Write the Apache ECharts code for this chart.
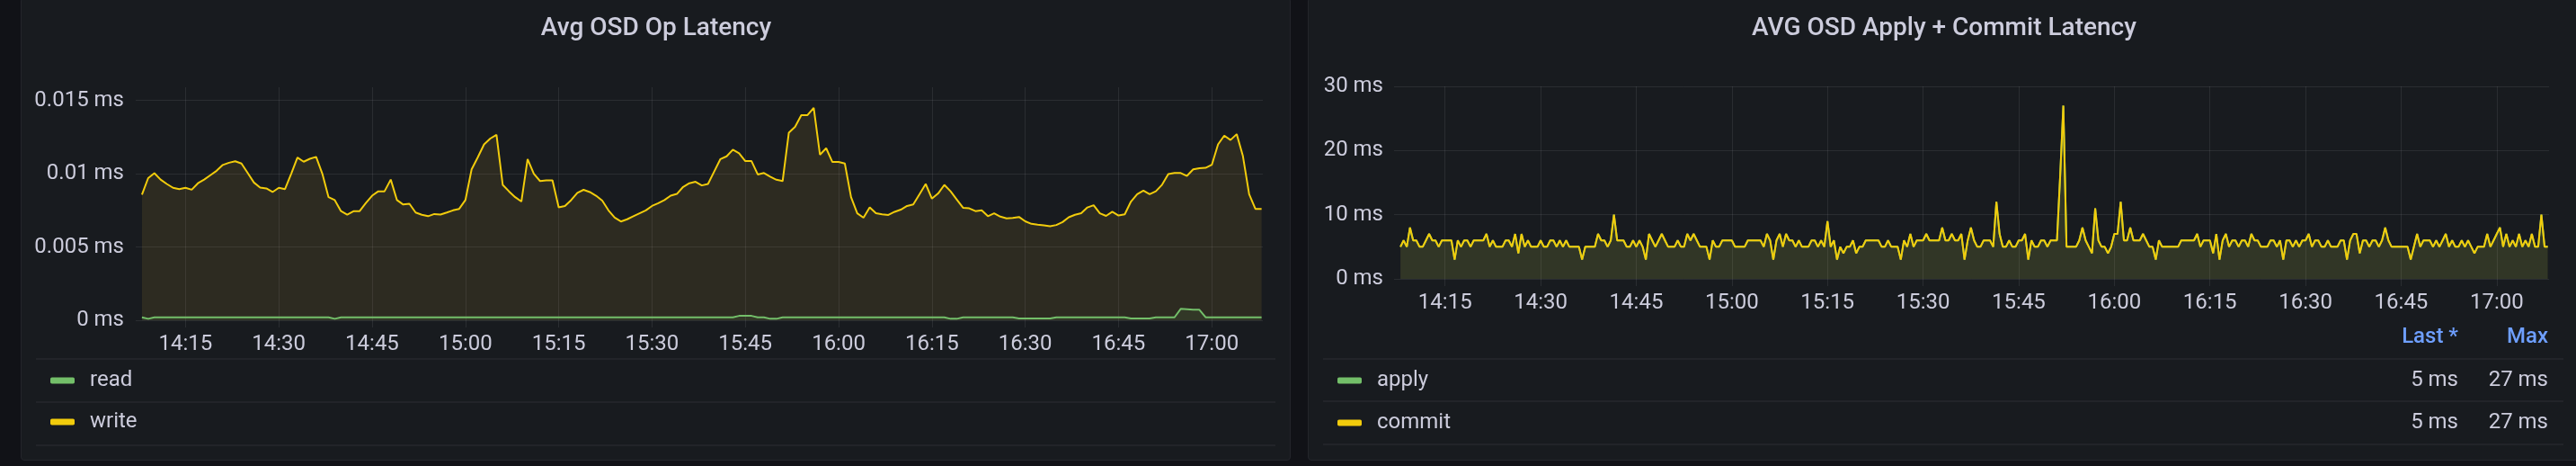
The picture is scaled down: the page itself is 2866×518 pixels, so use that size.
<!DOCTYPE html>
<html>
<head>
<meta charset="utf-8">
<script src="https://cdn.jsdelivr.net/npm/echarts@6/dist/echarts.min.js"></script>
<style>
  html, body { margin: 0; padding: 0; background: #111217; overflow: hidden; }
  .panel { position: absolute; box-sizing: border-box; background: #181b1f; border: 1px solid #23252b; border-radius: 4px; }
  #chart { position: absolute; left: 0; top: 0; width: 2866px; height: 518px; }
</style>
</head>
<body>
<div class="panel" style="left:23px;top:-3px;width:1413px;height:515px"></div>
<div class="panel" style="left:1455px;top:-3px;width:1414px;height:515px"></div>
<div id="chart"></div>
<script>
// ---------- data ----------
// time axis in minutes since midnight; first sample 14:08
const startMinute = 848;
const leftStepMin = 1;      // 1-minute samples (left panel)
const rightStepMin = 0.5;   // 30-second samples (right panel)
const axisMinMinute = 847;
const axisMaxMinute = 1028.2;
const timeTickMinutes = [855, 870, 885, 900, 915, 930, 945, 960, 975, 990, 1005, 1020];

// Avg OSD Op Latency, values in microseconds (1e-3 ms)
const writeLatencyUs = [
  8.57, 9.7, 10.04, 9.6, 9.3, 9.04, 8.95, 9.04, 8.91, 9.35,
  9.6, 9.9, 10.2, 10.6, 10.75, 10.85, 10.7, 10.05, 9.4, 9.06,
  9.0, 8.75, 9.04, 8.95, 10.0, 11.1, 10.82, 11.02, 11.15, 10.0,
  8.4, 8.2, 7.45, 7.21, 7.44, 7.45, 8.0, 8.5, 8.8, 8.8,
  9.6, 8.2, 7.9, 7.95, 7.35, 7.2, 7.1, 7.25, 7.21, 7.35,
  7.5, 7.6, 8.2, 10.3, 11.13, 12.0, 12.4, 12.66, 9.24, 8.8,
  8.4, 8.1, 11.0, 10.0, 9.5, 9.55, 9.55, 7.7, 7.8, 8.2,
  8.7, 8.9, 8.75, 8.5, 8.16, 7.5, 7.0, 6.74, 6.89, 7.1,
  7.3, 7.5, 7.8, 7.99, 8.2, 8.5, 8.62, 9.1, 9.35, 9.45,
  9.2, 9.3, 10.15, 11.0, 11.19, 11.64, 11.4, 10.86, 10.86, 9.95,
  10.05, 9.8, 9.59, 9.5, 12.8, 13.2, 14.0, 14.0, 14.5, 11.3,
  11.74, 10.8, 10.8, 10.7, 8.4, 7.3, 7.0, 7.7, 7.3, 7.23,
  7.19, 7.4, 7.55, 7.8, 7.9, 8.6, 9.3, 8.3, 8.65, 9.24,
  8.8, 8.24, 7.68, 7.64, 7.45, 7.5, 7.1, 7.3, 7.07, 6.95,
  6.98, 7.05, 6.75, 6.58, 6.52, 6.48, 6.42, 6.5, 6.7, 7.03,
  7.2, 7.3, 7.7, 7.85, 7.3, 7.12, 7.4, 7.15, 7.23, 8.1,
  8.6, 8.85, 8.6, 8.8, 9.25, 9.97, 10.05, 10.05, 9.85, 10.3,
  10.38, 10.4, 10.61, 12.0, 12.6, 12.3, 12.7, 11.2, 8.6, 7.6, 7.6
];
const readLatencyUs = [
  0.2, 0.1, 0.2, 0.2, 0.2, 0.2, 0.2, 0.2, 0.2, 0.2,
  0.2, 0.2, 0.2, 0.2, 0.2, 0.2, 0.2, 0.2, 0.2, 0.2,
  0.2, 0.2, 0.2, 0.2, 0.2, 0.2, 0.2, 0.2, 0.2, 0.2,
  0.2, 0.1, 0.2, 0.2, 0.2, 0.2, 0.2, 0.2, 0.2, 0.2,
  0.2, 0.2, 0.2, 0.2, 0.2, 0.2, 0.2, 0.2, 0.2, 0.2,
  0.2, 0.2, 0.2, 0.2, 0.2, 0.2, 0.2, 0.2, 0.2, 0.2,
  0.2, 0.2, 0.2, 0.2, 0.2, 0.2, 0.2, 0.2, 0.2, 0.2,
  0.2, 0.2, 0.2, 0.2, 0.2, 0.2, 0.2, 0.2, 0.2, 0.2,
  0.2, 0.2, 0.2, 0.2, 0.2, 0.2, 0.2, 0.2, 0.2, 0.2,
  0.2, 0.2, 0.2, 0.2, 0.2, 0.2, 0.3, 0.3, 0.3, 0.2,
  0.2, 0.1, 0.1, 0.2, 0.2, 0.2, 0.2, 0.2, 0.2, 0.2,
  0.2, 0.2, 0.2, 0.2, 0.2, 0.2, 0.2, 0.2, 0.2, 0.2,
  0.2, 0.2, 0.2, 0.2, 0.2, 0.2, 0.2, 0.2, 0.2, 0.2,
  0.1, 0.1, 0.2, 0.2, 0.2, 0.2, 0.2, 0.2, 0.2, 0.2,
  0.2, 0.12, 0.12, 0.12, 0.12, 0.12, 0.12, 0.2, 0.2, 0.2,
  0.2, 0.2, 0.2, 0.2, 0.2, 0.2, 0.2, 0.2, 0.2, 0.12,
  0.12, 0.12, 0.12, 0.2, 0.2, 0.2, 0.2, 0.78, 0.75, 0.72,
  0.72, 0.2, 0.2, 0.2, 0.2, 0.2, 0.2, 0.2, 0.2, 0.2, 0.2
];

// AVG OSD Apply + Commit Latency, values in ms (30 s samples)
const commitLatencyMs = [
  5,6,5,8,6,6,5,5,6,7, 6,6,5,6,6,6,6,3,6,5, 6,6,5,6,6,6,6,7,5,6, 5,5,5,6,6,5,7,4,7,5,
  6,5,5,5,6,5,5,6,6,5, 6,5,6,5,5,5,5,3,5,5, 5,5,7,6,6,5,6,10,6,6, 6,5,5,6,5,6,5,3,7,6,
  5,6,7,6,5,5,5,6,5,5, 7,6,7,6,5,5,5,3,6,5, 5,6,6,6,6,5,5,5,5,6, 6,6,6,6,5,7,6,3,6,7,
  5,7,6,6,5,6,5,5,5,6, 6,5,6,5,9,5,6,3,5,4, 5,5,6,4,5,5,6,6,6,6, 6,5,5,6,5,5,5,3,6,5,
  7,5,6,6,6,7,6,6,6,6, 8,6,6,7,6,6,7,3,6,8, 6,5,5,6,6,6,5,12,7,5, 5,6,5,5,6,6,7,3,6,5,
  5,6,6,5,6,6,6,16,27,5, 5,5,5,6,8,6,5,4,11,6, 5,5,4,5,7,7,12,6,6,8, 6,6,6,7,6,5,5,3,6,5,
  5,5,5,5,5,6,6,6,6,6, 7,5,6,6,6,4,7,3,6,7, 5,6,6,5,6,6,5,7,6,6, 5,5,5,6,6,5,6,3,6,6,
  5,6,5,6,6,7,5,6,6,5, 5,6,5,5,5,6,6,3,6,7, 7,4,6,6,5,6,6,5,6,8, 6,5,5,5,5,5,5,3,5,7,
  5,6,6,6,5,6,5,6,7,5, 6,5,5,6,5,6,5,4,5,5, 5,7,5,6,7,8,5,7,5,6, 5,7,5,6,5,7,5,5,10,5,
  5
];
const applyLatencyMs = commitLatencyMs.slice();

// ---------- helpers ----------
function fmtTime(m) {
  const h = Math.floor(m / 60), mm = Math.round(m % 60);
  return h + ':' + (mm < 10 ? '0' : '') + mm;
}
const leftData = (arr) => arr.map((v, i) => [startMinute + i * leftStepMin, v / 1000]);
const rightData = (arr) => arr.map((v, i) => [startMinute + i * rightStepMin, v]);

const TEXT = '#ccccdc';
const GRID = 'rgba(204,204,220,0.1)';
const FONT = 'Roboto';
const YELLOW = '#F2CC0C';
const YELLOW_FILL = '#EAB839';
const GREEN = '#73BF69';

function xAxis(gridIndex) {
  return {
    type: 'value', gridIndex, min: axisMinMinute, max: axisMaxMinute,
    axisLine: { show: false },
    axisTick: { show: true, length: 8, customValues: timeTickMinutes, lineStyle: { color: GRID, width: 1 } },
    axisLabel: { customValues: timeTickMinutes, formatter: fmtTime, color: TEXT, fontSize: 24, fontFamily: FONT, margin: 15 },
    splitLine: { show: true, lineStyle: { color: GRID, width: 1 } }
  };
}

const lastCommit = commitLatencyMs[commitLatencyMs.length - 1];
const maxCommit = Math.max.apply(null, commitLatencyMs);
const lastApply = applyLatencyMs[applyLatencyMs.length - 1];
const maxApply = Math.max.apply(null, applyLatencyMs);

function sep(x1, x2, y) {
  return { type: 'rect', shape: { x: x1, y: y - 1, width: x2 - x1, height: 2 }, style: { fill: '#222429' }, silent: true };
}
function txt(text, x, y, align, color, size, weight) {
  return { type: 'text', x, y, style: { text, fill: color, fontSize: size, fontFamily: FONT, fontWeight: weight || 400, align, verticalAlign: 'middle' }, silent: true };
}

const option = {
  animation: false,
  backgroundColor: 'transparent',
  grid: [
    { left: 151, top: 97, width: 1254, height: 259, containLabel: false },
    { left: 1551, top: 96, width: 1285, height: 214, containLabel: false }
  ],
  xAxis: [xAxis(0), xAxis(1)],
  yAxis: [
    {
      type: 'value', gridIndex: 0, min: 0, max: 0.0159, interval: 0.005,
      axisLine: { show: false }, axisTick: { show: false },
      axisLabel: { showMaxLabel: false, color: TEXT, fontSize: 24, fontFamily: FONT, margin: 13,
        formatter: (v) => parseFloat(v.toFixed(3)) + ' ms' },
      splitLine: { showMaxLine: false, lineStyle: { color: GRID, width: 1 } }
    },
    {
      type: 'value', gridIndex: 1, min: 0, max: 30, interval: 10,
      axisLine: { show: false }, axisTick: { show: false },
      axisLabel: { color: TEXT, fontSize: 24, fontFamily: FONT, margin: 12, formatter: (v) => v + ' ms' },
      splitLine: { lineStyle: { color: GRID, width: 1 } }
    }
  ],
  legend: [
    {
      left: 56, top: 411, orient: 'vertical', padding: 0, itemGap: 22, itemWidth: 27, itemHeight: 7,
      icon: 'roundRect', selectedMode: false, data: ['read', 'write'],
      textStyle: { color: TEXT, fontSize: 24, fontFamily: FONT, lineHeight: 24, padding: [0, 0, 0, 12] }
    },
    {
      left: 1488, top: 411, orient: 'vertical', padding: 0, itemGap: 23, itemWidth: 27, itemHeight: 7,
      icon: 'roundRect', selectedMode: false, data: ['apply', 'commit'],
      textStyle: { color: TEXT, fontSize: 24, fontFamily: FONT, lineHeight: 24, padding: [0, 0, 0, 12] }
    }
  ],
  series: [
    { name: 'write', type: 'line', xAxisIndex: 0, yAxisIndex: 0, data: leftData(writeLatencyUs),
      showSymbol: false, symbol: 'none', color: YELLOW, lineStyle: { width: 2, color: YELLOW },
      areaStyle: { color: YELLOW_FILL, opacity: 0.1 } },
    { name: 'read', type: 'line', xAxisIndex: 0, yAxisIndex: 0, data: leftData(readLatencyUs),
      showSymbol: false, symbol: 'none', color: GREEN, lineStyle: { width: 2, color: GREEN },
      areaStyle: { color: GREEN, opacity: 0.09 } },
    { name: 'apply', type: 'line', xAxisIndex: 1, yAxisIndex: 1, data: rightData(applyLatencyMs),
      showSymbol: false, symbol: 'none', color: GREEN, lineStyle: { width: 2, color: GREEN },
      areaStyle: { color: GREEN, opacity: 0.09 } },
    { name: 'commit', type: 'line', xAxisIndex: 1, yAxisIndex: 1, data: rightData(commitLatencyMs),
      showSymbol: false, symbol: 'none', color: YELLOW, lineStyle: { width: 2, color: YELLOW },
      areaStyle: { color: YELLOW_FILL, opacity: 0.09 } }
  ],
  graphic: [
    txt('Avg OSD Op Latency', 730, 32, 'center', TEXT, 28, 500),
    txt('AVG OSD Apply + Commit Latency', 2163, 32, 'center', TEXT, 28, 500),
    sep(40, 1419, 399), sep(40, 1419, 447), sep(40, 1419, 495),
    sep(1472, 2852, 399), sep(1472, 2852, 446), sep(1472, 2852, 494),
    txt('Last *', 2735, 375, 'right', '#6E9FFF', 24, 500),
    txt('Max', 2835, 375, 'right', '#6E9FFF', 24, 500),
    txt(lastApply + ' ms', 2735, 423, 'right', TEXT, 24),
    txt(maxApply + ' ms', 2835, 423, 'right', TEXT, 24),
    txt(lastCommit + ' ms', 2735, 470, 'right', TEXT, 24),
    txt(maxCommit + ' ms', 2835, 470, 'right', TEXT, 24)
  ]
};

const chart = echarts.init(document.getElementById('chart'), null, { renderer: 'canvas' });
chart.setOption(option);
</script>
</body>
</html>
